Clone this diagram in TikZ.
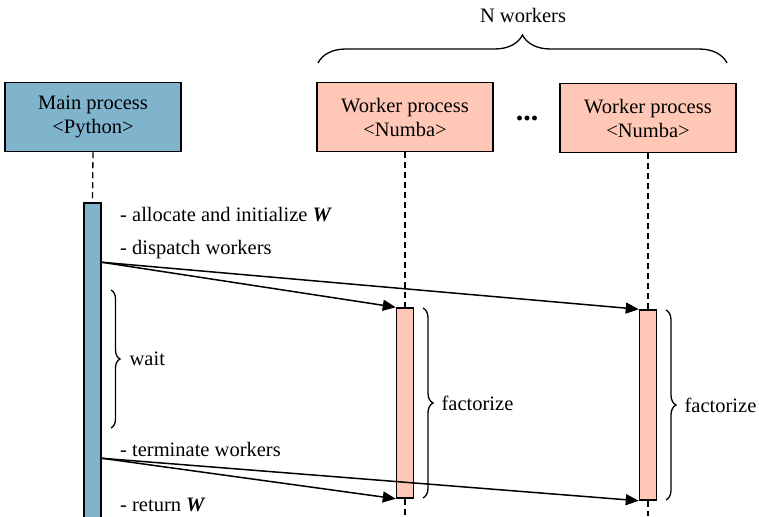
\documentclass[tikz,border=0pt]{standalone}
\usepackage{fontspec}
\setmainfont{Liberation Serif}
\usetikzlibrary{arrows.meta}
\usetikzlibrary{decorations.pathreplacing}
\definecolor{mainblue}{RGB}{128,179,204}
\definecolor{workpink}{RGB}{255,200,182}
\newcommand{\boxtxt}[2]{#1\\#2}
\newcommand{\wmat}{\textbf{\textit{W}}}

\begin{document}
\begin{tikzpicture}[x=1pt,y=-1pt,
  every node/.style={font=\fontsize{20.5}{24}\selectfont,inner sep=2pt},
  procbox/.style={rectangle,draw=black,line width=1.5pt,minimum width=176pt,minimum height=69pt,align=center},
  actbar/.style={rectangle,draw=black,line width=1.5pt,minimum width=17pt,inner sep=0pt},
  lifeline/.style={line width=1.3pt,dash pattern=on 6pt off 4pt},
  msg/.style={-{Triangle[length=13pt,width=11pt]},line width=1.5pt},
  curly/.style={decorate,decoration={brace,amplitude=#1},line width=1.3pt},
  curly/.default=10pt]
 \useasboundingbox (0,0) rectangle (759,516);

 \draw (93,117)  node[procbox,fill=mainblue] (M)
              {\boxtxt{Main process}{<Python>}};

 \draw (405,117)  node[procbox,fill=workpink] (W1)
              {\boxtxt{Worker process}{<Numba>}};

 \draw (648,118)  node[procbox,fill=workpink] (W2)
              {\boxtxt{Worker process}{<Numba>}};

 \draw (527,120)  node[anchor=base,font=\fontsize{30}{30}\selectfont\bfseries] (dots) {...};

 \draw (523,15)  node (N) {N workers};
 \coordinate (nl) at (318,63);
 \coordinate (nr) at (727,63);
 \draw[curly=28pt] (nl) -- (nr);

 \draw (92.5,361.5)  node[actbar,fill=mainblue,minimum height=317pt] (MB) {};
 \draw (405,403)  node[actbar,fill=workpink,minimum height=190pt] (B1) {};
 \draw (648,405)  node[actbar,fill=workpink,minimum height=190pt] (B2) {};

 \coordinate (e1) at (405,516);
 \coordinate (e2) at (648,516);
 \draw[lifeline] (M.south) -- (MB.north);
 \draw[lifeline] (W1.south) -- (B1.north);
 \draw[lifeline] (B1.south) -- (e1);
 \draw[lifeline] (W2.south) -- (B2.north);
 \draw[lifeline] (B2.south) -- (e2);

 \draw (118,215)  node[anchor=west] (alloc) {- allocate and initialize \wmat};
 \draw (118,250)  node[anchor=west] (disp) {- dispatch workers};
 \draw (118,449)  node[anchor=west] (term) {- terminate workers};
 \draw (118,505)  node[anchor=west] (ret) {- return \wmat};

 \path (MB.north east) ++(0,60) coordinate (d0);
 \path (MB.north east) ++(0,256) coordinate (t0);
 \draw[msg] (d0) -- (B1.north west);
 \draw[msg] (d0) -- (B2.north west);
 \draw[msg] (t0) -- (B1.south west);
 \draw[msg] (t0) -- (B2.south west);

 \coordinate (wa) at (111,290);
 \coordinate (wb) at (111,428);
 \draw[curly=9pt] (wa) -- (wb)
    node[midway,right=16pt] (wait) {wait};

 \coordinate (f1a) at (423,308);
 \coordinate (f1b) at (423,498);
 \draw[curly] (f1a) -- (f1b)
    node[midway,right=16pt] (fac1) {factorize};

 \coordinate (f2a) at (666,310);
 \coordinate (f2b) at (666,500);
 \draw[curly] (f2a) -- (f2b)
    node[midway,right=16pt] (fac2) {factorize};

\end{tikzpicture}
\end{document}
